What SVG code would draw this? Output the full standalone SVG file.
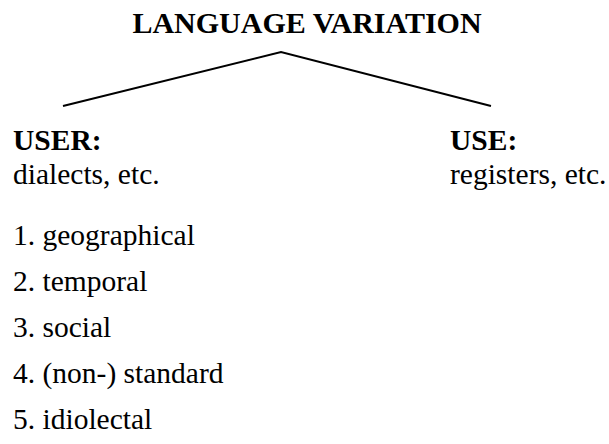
<svg xmlns="http://www.w3.org/2000/svg" width="609" height="444" viewBox="0 0 609 444">
<style>
text{font-family:"Liberation Serif","Times New Roman",serif;font-size:29.5px;fill:#000}
.b{font-weight:bold}
.t{font-size:30px}
.c{stroke:#000;stroke-width:2;fill:none}
</style>
<rect width="609" height="444" fill="#fff"/>
<g id="root"><text class="b t" x="307" y="33" text-anchor="middle">LANGUAGE VARIATION</text></g>
<g id="connectors"><polyline class="c" points="63,106 281,52 491,106"/></g>
<g id="user"><text class="b" x="13" y="150">USER:</text><text x="13" y="184">dialects, etc.</text></g>
<g id="use"><text class="b" x="450" y="150">USE:</text><text x="450" y="184">registers, etc.</text></g>
<g id="list">
<text x="13" y="245">1. geographical</text>
<text x="13" y="291">2. temporal</text>
<text x="13" y="337">3. social</text>
<text x="13" y="383">4. (non-) standard</text>
<text x="13" y="429">5. idiolectal</text>
</g>
</svg>
